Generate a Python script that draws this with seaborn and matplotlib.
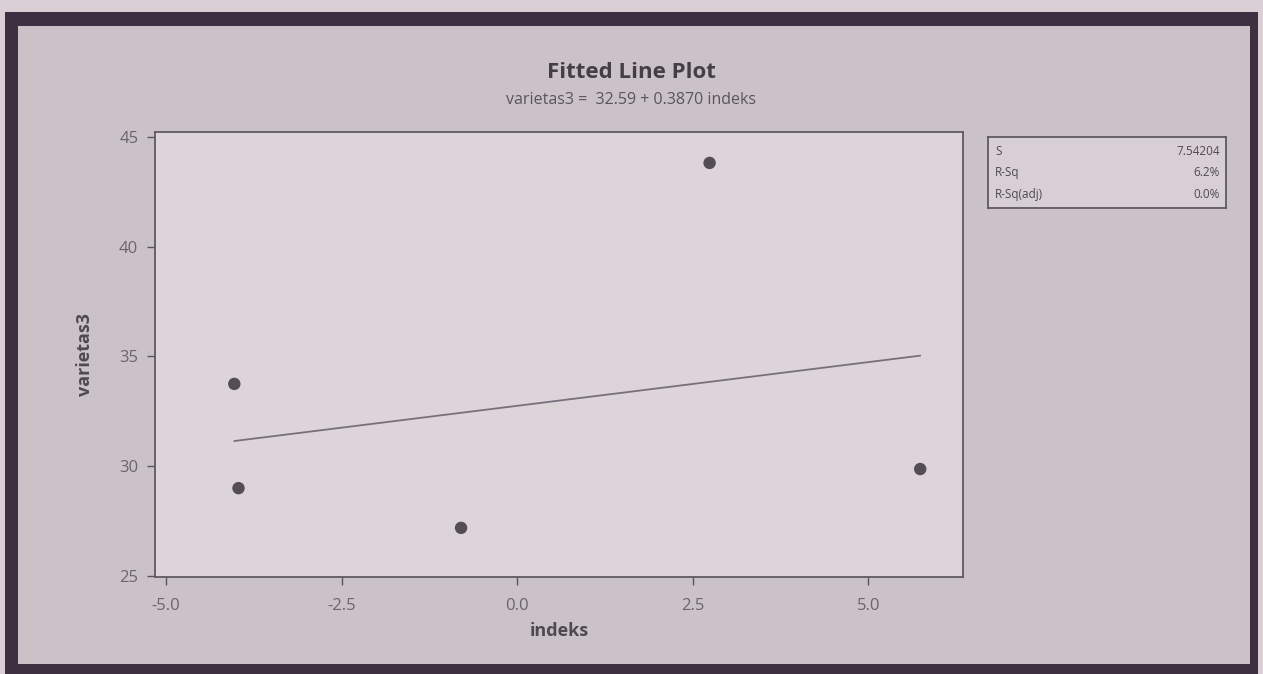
import matplotlib
matplotlib.use("Agg")
import numpy as np
import pandas as pd
import matplotlib.pyplot as plt
from matplotlib.patches import Rectangle
import seaborn as sns

# data
indeks = [-4.03, -3.97, -0.80, 2.74, 5.74]
varietas3 = [33.75, 29.0, 27.19, 43.82, 29.87]
x_ticks = [-5.0, -2.5, 0.0, 2.5, 5.0]
y_ticks = [25, 30, 35, 40, 45]
stat_names = ["S", "R-Sq", "R-Sq(adj)"]
stat_values = ["7.54204", "6.2%", "0.0%"]
equation = "varietas3 =  32.59 + 0.3870 indeks"

df = pd.DataFrame({"indeks": indeks, "varietas3": varietas3})

sns.set_style("white")
plt.rcParams["font.family"] = ["Open Sans", "DejaVu Sans"]

txt = "#4f4a50"
fig = plt.figure(figsize=(12.63, 6.74), dpi=100)
fig.patch.set_facecolor("#d9cfd5")

# photo frame + grey panel (kept behind the axes)
fig.patches.append(Rectangle((0.004, 0.0), 0.992, 0.982, transform=fig.transFigure,
                             facecolor="#3e3040", edgecolor="none", zorder=-5))
fig.patches.append(Rectangle((0.014, 0.015), 0.976, 0.947, transform=fig.transFigure,
                             facecolor="#cbc2c7", edgecolor="none", zorder=-4))

ax = fig.add_axes([0.1227, 0.1439, 0.6398, 0.6603])
ax.set_facecolor("#ddd4d9")

sns.regplot(data=df, x="indeks", y="varietas3", ci=None, ax=ax,
            scatter_kws=dict(s=80, color="#332b34", edgecolor="none", zorder=3),
            line_kws=dict(color="#77707a", lw=1.3))

ax.set_xlim(-5.16, 6.35)
ax.set_ylim(24.95, 45.23)
ax.set_xticks(x_ticks)
ax.set_xticklabels([f"{v:.1f}" for v in x_ticks])
ax.set_yticks(y_ticks)
ax.tick_params(axis="both", direction="out", length=6, width=1, color="#5a545c",
               labelsize=12, labelcolor="#6a646c", left=True, bottom=True)
ax.tick_params(axis="x", pad=9)
ax.tick_params(axis="y", pad=6)
for sp in ax.spines.values():
    sp.set_color("#5f5961")
    sp.set_linewidth(1.3)
ax.set_xlabel("indeks", fontsize=13, fontweight="bold", color=txt, labelpad=6)
ax.set_ylabel("varietas3", fontsize=13, fontweight="bold", color=txt, labelpad=18)

fig.text(0.5, 0.893, "Fitted Line Plot", ha="center", va="center",
         fontsize=16, fontweight="bold", color="#443e46")
fig.text(0.5, 0.851, equation, ha="center", va="center", fontsize=11.5, color="#5a545c")

# stats box
box = fig.add_axes([0.7823, 0.6914, 0.1884, 0.1053])
box.set_facecolor("#d8cfd4")
box.set_xticks([])
box.set_yticks([])
for sp in box.spines.values():
    sp.set_color("#5f5961")
    sp.set_linewidth(1.3)
rows_y = [0.8, 0.5, 0.19]
for name, val, yy in zip(stat_names, stat_values, rows_y):
    box.text(0.03, yy, name, ha="left", va="center", fontsize=8.5, color=txt,
             transform=box.transAxes)
    box.text(0.975, yy, val, ha="right", va="center", fontsize=8.5, color=txt,
             transform=box.transAxes)

fig.savefig("out.png", dpi=100, facecolor=fig.get_facecolor())
